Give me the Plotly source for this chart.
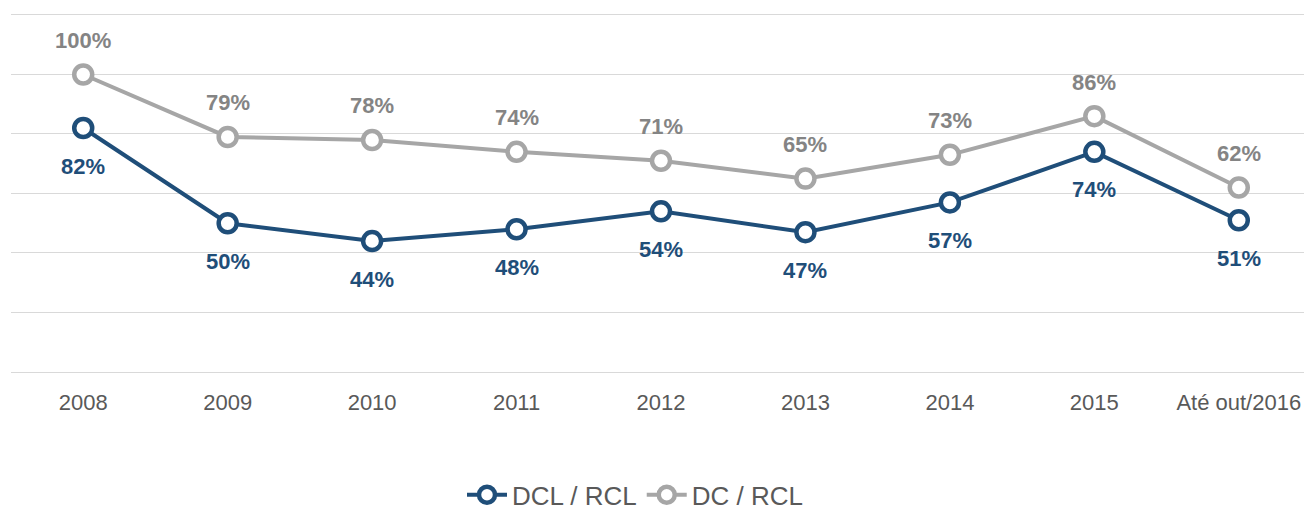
import plotly.graph_objects as go

categories = ["2008", "2009", "2010", "2011", "2012", "2013", "2014", "2015", "Até out/2016"]
dcl_rcl = [82, 50, 44, 48, 54, 47, 57, 74, 51]
dc_rcl = [100, 79, 78, 74, 71, 65, 73, 86, 62]
y_ticks = [0, 20, 40, 60, 80, 100, 120]

BLUE = "#1f4e79"
GREY = "#a6a6a6"
GREY_TXT = "#848484"
AXIS_TXT = "#595959"
FONT = "Liberation Sans, Arial, sans-serif"

fig = go.Figure()
fig.add_trace(go.Scatter(
    x=categories, y=dcl_rcl, name="DCL / RCL", mode="lines+markers",
    line=dict(color=BLUE, width=4),
    marker=dict(symbol="circle", size=18, color="white", line=dict(color=BLUE, width=4.5)),
))
fig.add_trace(go.Scatter(
    x=categories, y=dc_rcl, name="DC / RCL", mode="lines+markers",
    line=dict(color=GREY, width=4),
    marker=dict(symbol="circle", size=18, color="white", line=dict(color=GREY, width=4.5)),
))

for i, v in enumerate(dcl_rcl):
    fig.add_annotation(x=i, y=v, xref="x", yref="y", text=f"{v}%", showarrow=False, yshift=-38,
                       font=dict(family=FONT, size=22, color=BLUE, weight="bold"))
for i, v in enumerate(dc_rcl):
    fig.add_annotation(x=i, y=v, xref="x", yref="y", text=f"{v}%", showarrow=False, yshift=34,
                       font=dict(family=FONT, size=22, color=GREY_TXT, weight="bold"))

fig.update_layout(
    width=1304, height=505,
    margin=dict(l=3, r=1, t=4, b=141, autoexpand=False),
    paper_bgcolor="white", plot_bgcolor="white",
    font=dict(family=FONT, color=AXIS_TXT),
    showlegend=True,
    legend=dict(orientation="h", x=0.48, xanchor="center", yref="container", y=0.036, yanchor="middle",
                font=dict(size=26, color=AXIS_TXT), itemwidth=40, traceorder="normal"),
    xaxis=dict(type="category", range=[-0.5, 8.5], showgrid=False, showline=True,
               linecolor="#d9d9d9", linewidth=1, ticks="outside", ticklen=11,
               tickcolor="rgba(0,0,0,0)", tickfont=dict(size=22, color=AXIS_TXT), fixedrange=True),
    yaxis=dict(range=[0, 121], tickvals=y_ticks, showticklabels=False, showgrid=True,
               gridcolor="#d9d9d9", gridwidth=1, zeroline=False, showline=False, fixedrange=True),
)

fig.write_html("out.html")
